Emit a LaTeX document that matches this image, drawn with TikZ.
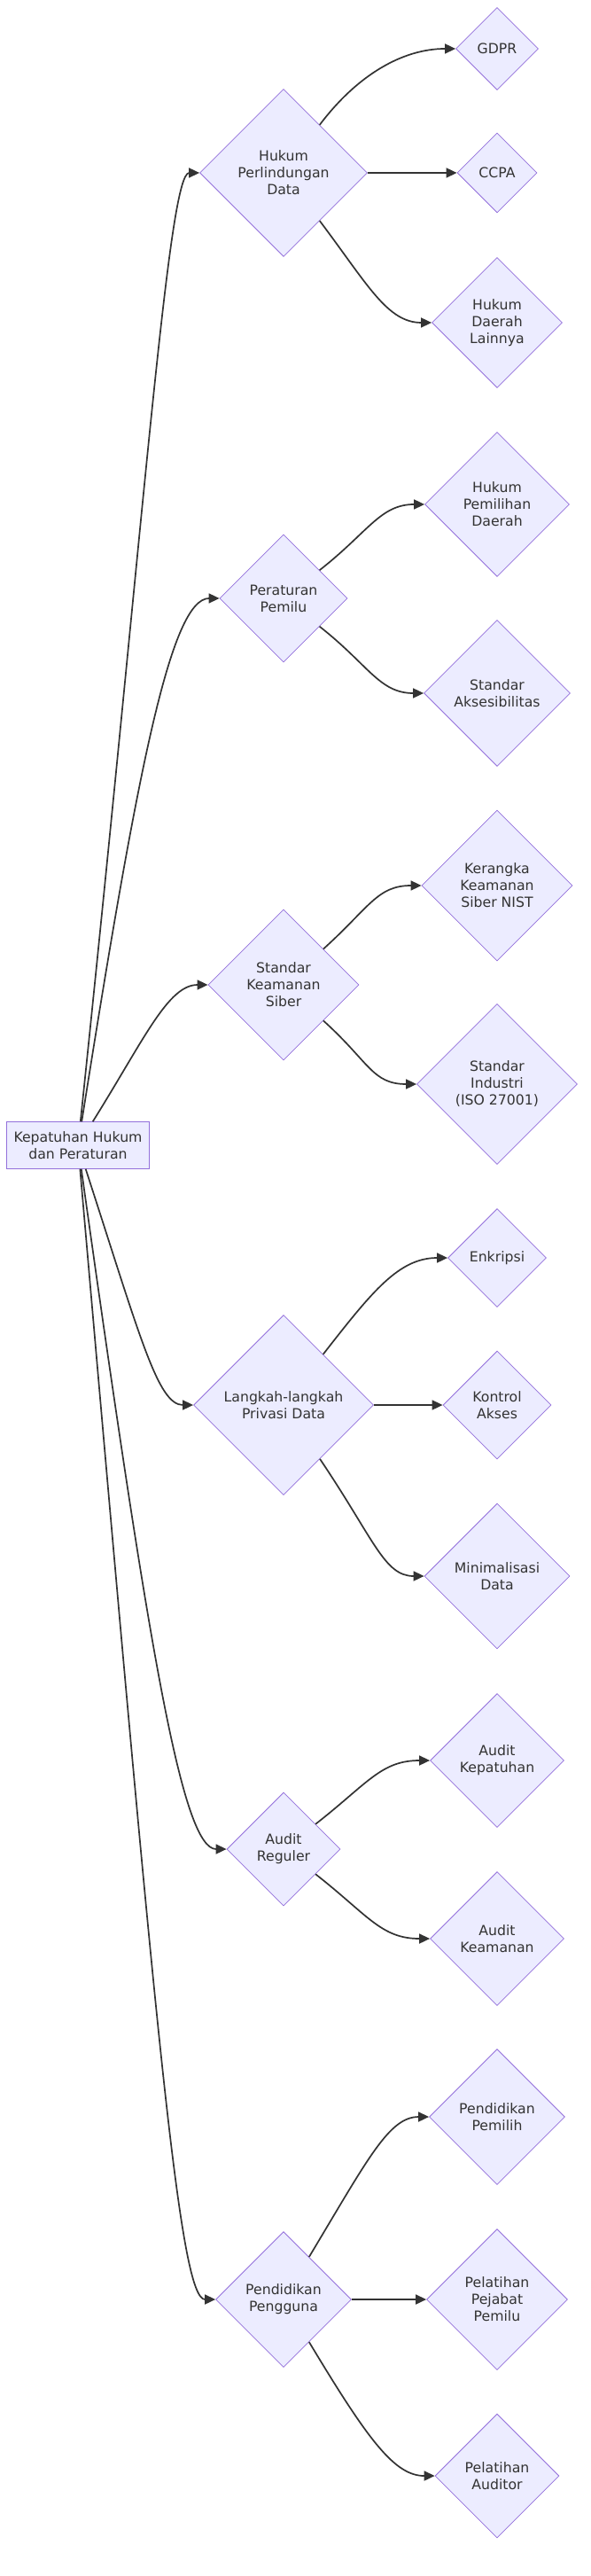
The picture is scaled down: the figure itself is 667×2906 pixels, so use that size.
\documentclass[tikz,border=0pt]{standalone}
\usepackage{fontspec}
\setmainfont{DejaVu Sans}
\usepackage{tikz}
\usetikzlibrary{arrows.meta,shapes.geometric}
\definecolor{nodefill}{HTML}{ECECFF}
\definecolor{nodeline}{HTML}{9370DB}
\definecolor{ink}{HTML}{333333}
\tikzset{arrow/.style={->, >={Triangle[length=1.2pt,width=1.1pt]}, draw=ink, line width=0.17pt}}
\tikzset{rootbox/.style={rectangle, draw=nodeline, fill=nodefill, line width=0.1pt, text=ink,
    inner sep=0pt, minimum width=16.1pt, minimum height=5.25pt, align=center,
    font=\fontsize{1.57}{1.9}\selectfont}}
\tikzset{dia/.style={diamond, aspect=1, draw=nodeline, fill=nodefill, line width=0.08pt, text=ink,
    inner sep=0pt, minimum size=#1pt, align=center, font=\fontsize{1.57}{1.9}\selectfont}}

\begin{document}
\begin{tikzpicture}[x=0.1pt, y=0.1pt]
    \useasboundingbox (0,0) rectangle (667,-2906);
    \node[rootbox] (Root) at (88,-1292) {Kepatuhan Hukum\\dan Peraturan};
    % second column
    \node[dia=18.9] (HPD) at (320,-195) {Hukum\\Perlindungan\\Data};
    \node[dia=14.4] (PPem) at (320,-675) {Peraturan\\Pemilu};
    \node[dia=17] (SKS) at (320,-1111) {Standar\\Keamanan\\Siber};
    \node[dia=20.3] (LPD) at (320,-1585) {Langkah-langkah\\Privasi Data};
    \node[dia=12.8] (AR) at (320,-2086) {Audit\\Reguler};
    \node[dia=15.3] (PPg) at (320,-2594) {Pendidikan\\Pengguna};
    % third column
    \node[dia=9.3] (GDPR) at (561,-55) {GDPR};
    \node[dia=9] (CCPA) at (561,-195) {CCPA};
    \node[dia=14.7] (HDL) at (561,-364) {Hukum\\Daerah\\Lainnya};
    \node[dia=16.3] (HPmD) at (561,-569) {Hukum\\Pemilihan\\Daerah};
    \node[dia=16.5] (SA) at (561,-782) {Standar\\Aksesibilitas};
    \node[dia=17] (KKSN) at (561,-999) {Kerangka\\Keamanan\\Siber NIST};
    \node[dia=18.1] (SI) at (561,-1223) {Standar\\Industri\\(ISO 27001)};
    \node[dia=11.1] (Enk) at (561,-1419) {Enkripsi};
    \node[dia=12.2] (KA) at (561,-1585) {Kontrol\\Akses};
    \node[dia=16.4] (MD) at (561,-1778) {Minimalisasi\\Data};
    \node[dia=15.1] (AK) at (561,-1986) {Audit\\Kepatuhan};
    \node[dia=15.1] (AKm) at (561,-2187) {Audit\\Keamanan};
    \node[dia=15.3] (PPm) at (561,-2388) {Pendidikan\\Pemilih};
    \node[dia=15.9] (PPP) at (561,-2594) {Pelatihan\\Pejabat\\Pemilu};
    \node[dia=14] (PA) at (561,-2793) {Pelatihan\\Auditor};
    % root to second column
    \draw[arrow] (Root.84) to[out=84, in=180, out distance=70pt, in distance=3.5pt] (HPD.west);
    \draw[arrow] (Root.81) to[out=81, in=180, out distance=40pt, in distance=5.5pt] (PPem.west);
    \draw[arrow] (Root.58) to[out=58, in=180, out distance=11pt, in distance=4.5pt] (SKS.west);
    \draw[arrow] (Root.-72) to[out=-72, in=180, out distance=20pt, in distance=4pt] (LPD.west);
    \draw[arrow] (Root.-82) to[out=-82, in=180, out distance=55pt, in distance=5pt] (AR.west);
    \draw[arrow] (Root.-85) to[out=-85, in=180, out distance=100pt, in distance=4pt] (PPg.west);
    % second to third column
    \draw[arrow] (HPD.53) to[out=53, in=180, out distance=7pt, in distance=6pt] (GDPR.west);
    \draw[arrow] (HPD.east) -- (CCPA.west);
    \draw[arrow] (HPD.-53) to[out=-53, in=180, out distance=9pt, in distance=5pt] (HDL.west);
    \draw[arrow] (PPem.38) to[out=38, in=180, out distance=7pt, in distance=5pt] (HPmD.west);
    \draw[arrow] (PPem.-38) to[out=-38, in=180, out distance=7pt, in distance=5pt] (SA.west);
    \draw[arrow] (SKS.42) to[out=42, in=180, out distance=7pt, in distance=5pt] (KKSN.west);
    \draw[arrow] (SKS.-42) to[out=-42, in=180, out distance=7pt, in distance=5pt] (SI.west);
    \draw[arrow] (LPD.52) to[out=52, in=180, out distance=9pt, in distance=5.5pt] (Enk.west);
    \draw[arrow] (LPD.east) -- (KA.west);
    \draw[arrow] (LPD.-56) to[out=-56, in=180, out distance=11pt, in distance=4.5pt] (MD.west);
    \draw[arrow] (AR.38) to[out=38, in=180, out distance=7.5pt, in distance=5.5pt] (AK.west);
    \draw[arrow] (AR.-38) to[out=-38, in=180, out distance=7.5pt, in distance=5.5pt] (AKm.west);
    \draw[arrow] (PPg.59) to[out=59, in=180, out distance=13pt, in distance=4.5pt] (PPm.west);
    \draw[arrow] (PPg.east) -- (PPP.west);
    \draw[arrow] (PPg.-59) to[out=-59, in=180, out distance=13pt, in distance=4.5pt] (PA.west);
\end{tikzpicture}
\end{document}
